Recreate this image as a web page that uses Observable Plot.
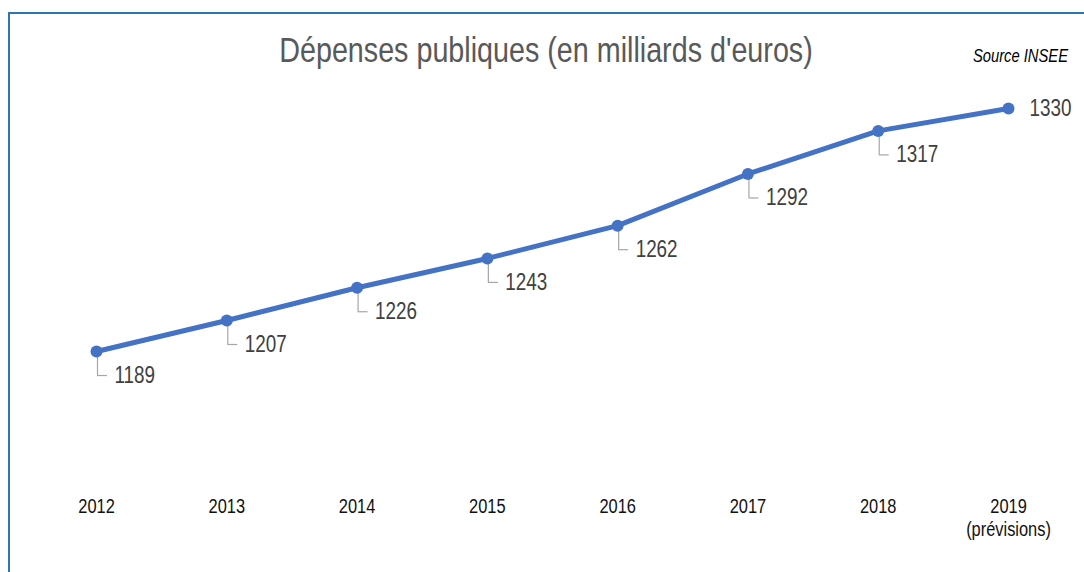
<!DOCTYPE html>
<html>
<head>
<meta charset="utf-8">
<script src="https://cdn.jsdelivr.net/npm/d3@7"></script>
<script src="https://cdn.jsdelivr.net/npm/@observablehq/plot@0.6"></script>
<style>
  html, body { margin: 0; padding: 0; background: #fff; }
  #wrap { position: relative; width: 1084px; height: 572px; overflow: hidden; font-family: "Liberation Sans", Arial, sans-serif; }
  #frame { position: absolute; left: 8px; top: 12px; right: -4px; bottom: -4px; border-top: 2px solid #2E75B6; border-left: 2px solid #2E75B6; }
  #title { position: absolute; left: 0; width: 1092px; top: 29px; text-align: center; font-size: 35px; color: #595959; line-height: 42px; transform: scaleX(0.82); transform-origin: 546px 0; }
  #source { position: absolute; right: 16px; top: 44px; font-size: 18px; font-style: italic; color: #000; line-height: 24px; transform: scaleX(0.82); transform-origin: right top; }
  #chart { position: absolute; left: 0; top: 0; }
</style>
</head>
<body>
<div id="wrap">
  <div id="frame"></div>
  <div id="title">Dépenses publiques (en milliards d'euros)</div>
  <div id="source">Source INSEE</div>
  <div id="chart"></div>
</div>
<script>
const years = [2012, 2013, 2014, 2015, 2016, 2017, 2018, 2019];
const spending = [1189, 1207, 1226, 1243, 1262, 1292, 1317, 1330];
const tickLabels = ["2012", "2013", "2014", "2015", "2016", "2017", "2018", "2019\n(prévisions)"];

const data = years.map((year, i) => ({year, value: spending[i], label: String(spending[i])}));
const leaderData = data.slice(0, -1);
const lastData = data.slice(-1);
const blue = "#4472C4";

const chart = Plot.plot({
  width: 1084,
  height: 572,
  marginLeft: 96,
  marginRight: 76,
  marginTop: 73.5,
  marginBottom: 84.8,
  style: {background: "transparent", fontFamily: '"Liberation Sans", Arial, sans-serif'},
  x: {domain: [2012, 2019], axis: null},
  y: {domain: [1110, 1350], axis: null},
  marks: [
    Plot.axisX({
      ticks: years,
      tickFormat: (d) => tickLabels[years.indexOf(d)],
      tickSize: 0,
      tickPadding: 9,
      fontSize: 20,
      fill: "#111",
      lineHeight: 1.15,
      label: null
    }),
    Plot.ruleX(leaderData, {x: "year", y1: "value", y2: "value", insetTop: 5, insetBottom: -24, dx: 1, stroke: "#a6a6a6", strokeWidth: 1.2}),
    Plot.ruleY(leaderData, {y: "value", x1: "year", x2: "year", insetLeft: 1, insetRight: -11, dy: 24, stroke: "#a6a6a6", strokeWidth: 1.2}),
    Plot.line(data, {x: "year", y: "value", stroke: blue, strokeWidth: 5, strokeLinejoin: "round", strokeLinecap: "round"}),
    Plot.dot(data, {x: "year", y: "value", r: 6, fill: blue, stroke: null}),
    Plot.text(leaderData, {x: "year", y: "value", text: "label", dx: 18, dy: 24, textAnchor: "start", fontSize: 23, fill: "#404040"}),
    Plot.text(lastData, {x: "year", y: "value", text: "label", dx: 21, dy: 0, textAnchor: "start", fontSize: 23, fill: "#404040"})
  ]
});
document.getElementById("chart").appendChild(chart);

// Emulate a narrow (Calibri-like) face by condensing glyphs horizontally.
chart.querySelectorAll("text, tspan").forEach((el) => {
  const hasOwnText = Array.from(el.childNodes).some((n) => n.nodeType === 3 && n.textContent.trim() !== "");
  if (!hasOwnText) return;
  const len = el.getComputedTextLength();
  if (len > 0) {
    el.setAttribute("textLength", (len * 0.82).toFixed(2));
    el.setAttribute("lengthAdjust", "spacingAndGlyphs");
  }
});
</script>
</body>
</html>
